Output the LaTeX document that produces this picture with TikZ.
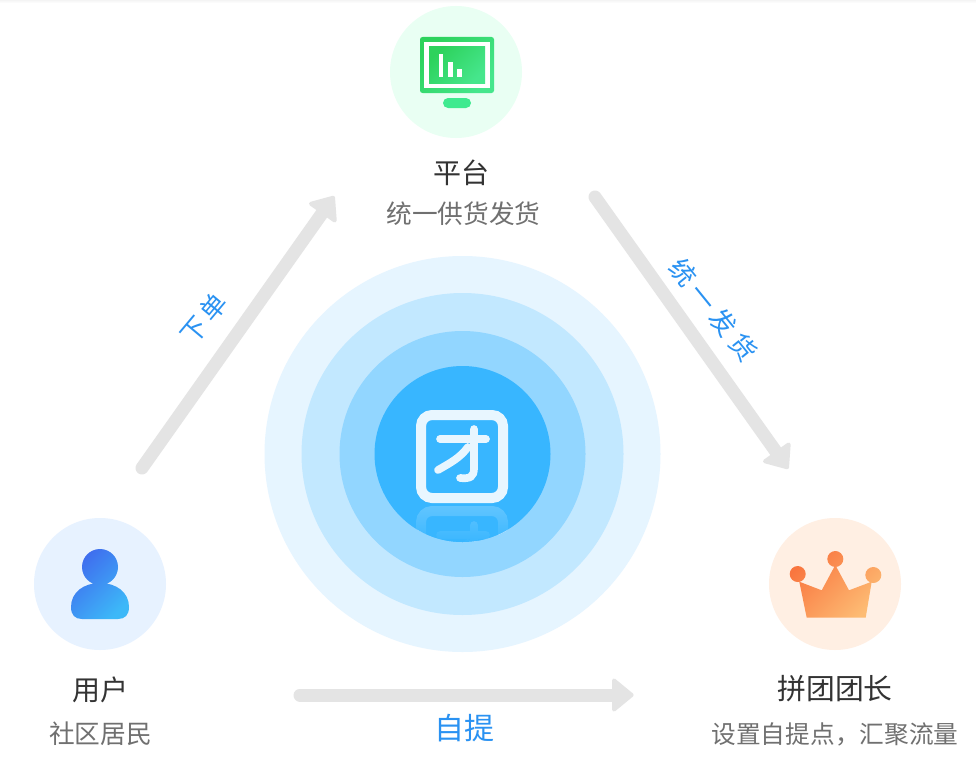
\documentclass[tikz,border=0pt]{standalone}
\usepackage{fontspec}
\setmainfont{Noto Sans CJK SC}
\usetikzlibrary{calc,fadings}
\definecolor{arrowgray}{HTML}{E4E4E4}
\definecolor{labelblue}{HTML}{2A92F2}
\definecolor{titlegray}{HTML}{333333}
\definecolor{subgray}{HTML}{707070}
\definecolor{ringa}{HTML}{E6F5FF}
\definecolor{ringb}{HTML}{C2E8FF}
\definecolor{ringc}{HTML}{92D6FF}
\definecolor{ringd}{HTML}{38B6FF}
\definecolor{glyph}{HTML}{E8F6FF}
\definecolor{badgegreen}{HTML}{E9FFF3}
\definecolor{badgeblue}{HTML}{E7F2FF}
\definecolor{badgeorange}{HTML}{FFEFE3}
\definecolor{monA}{HTML}{2DD25C}
\definecolor{monB}{HTML}{46E68C}
\definecolor{standgreen}{HTML}{3FEA8F}
\definecolor{userA}{HTML}{3F6CEE}
\definecolor{userB}{HTML}{3DB8F8}
\definecolor{crownA}{HTML}{F9763F}
\definecolor{crownB}{HTML}{FDBC74}
\definecolor{topband}{HTML}{F4F4F4}
\newcommand{\flowarrow}[2]{%
  \coordinate (headbase) at ($(#2)!21pt!(#1)$);
  \draw[flowshaft] (#1) -- (headbase);
  \filldraw[flowhead] ($(#2)!3.4pt!(#1)$) -- ($(headbase)!14.5pt!90:(#2)$) -- ($(headbase)!14.5pt!-90:(#2)$) -- cycle;
}
\tikzset{
  disc/.style={circle,inner sep=0pt,minimum size=#1},
  flowshaft/.style={draw=arrowgray,line width=13pt,line cap=round},
  flowhead/.style={draw=arrowgray,fill=arrowgray,line width=4pt,line join=round},
  title/.style={inner sep=0pt,text=titlegray,font=\fontsize{28}{28}\selectfont},
  subtitle/.style={inner sep=0pt,text=subgray,font=\fontsize{25.7}{25.7}\selectfont},
  flowlabel/.style={inner sep=0pt,text=labelblue,font=\fontsize{26}{26}\selectfont},
  tuanmark/.pic={
    \draw[line width=10pt,rounded corners=11pt] (421,415) rectangle (503,498);
    \draw[line width=7.7pt,line cap=round] (440,439) -- (486,439);
    \draw[line width=7.7pt,line cap=round] (474,429) -- (474,468) .. controls (474,477) and (470,479) .. (460,478);
    \draw[line width=7.7pt,line cap=round] (468,447) .. controls (460,458) and (450,463) .. (438,470);
  }
}
\begin{document}
\begin{tikzpicture}[x=1pt,y=-1pt]
\useasboundingbox (0,0) rectangle (976,760);
\fill[white] (0,0) rectangle (976,760);
\shade[top color=topband,bottom color=white] (0,0) rectangle (976,3);
% rings
\node[disc=396pt,fill=ringa] (r1) at (462.5,454) {};
\node[disc=322pt,fill=ringb] (r2) at (462.5,454) {};
\node[disc=246pt,fill=ringc] (r3) at (462.5,454) {};
\node[disc=176pt,fill=ringd] (r4) at (462.5,454) {};
\begin{scope}
  \clip (462.5,454) circle[radius=88];
  \begin{scope}[transparency group,opacity=0.22]
    \begin{scope}[draw=white,yshift=-96pt]
      \pic {tuanmark};
    \end{scope}
  \end{scope}
  \fill[ringd,path fading=north] (405,504) rectangle (520,545);
\end{scope}
\begin{scope}[draw=glyph]
  \pic {tuanmark};
\end{scope}
% badges
\node[disc=132pt,fill=badgegreen] (pb) at (456,72) {};
\node[disc=132pt,fill=badgeblue] (ub) at (100,584) {};
\node[disc=132pt,fill=badgeorange] (lb) at (835,584) {};
% monitor
\shade[left color=monA,right color=monB,shading angle=45] [rounded corners=2.5pt]
  (420,37) rectangle (494,93);
\fill[white] (424,42) rectangle (490,88);
\shade[left color=monA,right color=monB,shading angle=45] (429,47) rectangle (485,83);
\fill[white] (439,54) rectangle (443,77);
\fill[white] (448,62) rectangle (453,77);
\fill[white] (457,69) rectangle (462,77);
\fill[standgreen,rounded corners=5pt] (443,98) rectangle (471,108);
% person
\shade[left color=userA,right color=userB,shading angle=45]
  (100,567) circle[radius=18]
  (71,607) .. controls (71,592) and (84,583) .. (100,583)
  .. controls (116,583) and (129,592) .. (129,607)
  .. controls (129,615) and (125,619) .. (118,619)
  -- (82,619) .. controls (75,619) and (71,615) .. (71,607) -- cycle;
% crown
\shade[left color=crownA,right color=crownB,shading angle=45]
  (797.7,574) circle[radius=8] (835.3,559) circle[radius=8] (873.3,575) circle[radius=8]
  (799.3,581.7) -- (821.7,590.3) -- (835.3,565) -- (849,590.3) -- (871.7,581.7)
  -- (865.7,617.7) -- (806.7,617.7) -- cycle;
% connectors
\coordinate (a1) at (142,468); \coordinate (a2) at (335,195);
\coordinate (b1) at (595,197); \coordinate (b2) at (789,470);
\coordinate (c1) at (300,695); \coordinate (c2) at (635,695);
\flowarrow{a1}{a2}
\flowarrow{b1}{b2}
\flowarrow{c1}{c2}
% texts
\node[title] (t1) at (461.5,172.5) {平台};
\node[subtitle] (s1) at (463.5,214) {统一供货发货};
\node[title] (t2) at (100.5,690) {用户};
\node[subtitle] (s2) at (100.5,734) {社区居民};
\node[title,font=\fontsize{28.8}{28.8}\selectfont] (t3) at (835,689) {拼团团长};
\node[subtitle,font=\fontsize{24.7}{24.7}\selectfont] (s3) at (835,734) {设置自提点，汇聚流量};
\node[flowlabel,rotate=50] (f1) at (204,318.5) {下\hspace{4pt}单};
\node[flowlabel,rotate=-51] (f2) at (713.5,310) {统\hspace{6pt}一\hspace{6pt}发\hspace{6pt}货};
\node[flowlabel,font=\fontsize{30}{30}\selectfont] (f3) at (464.5,728) {自提};
\end{tikzpicture}
\end{document}
